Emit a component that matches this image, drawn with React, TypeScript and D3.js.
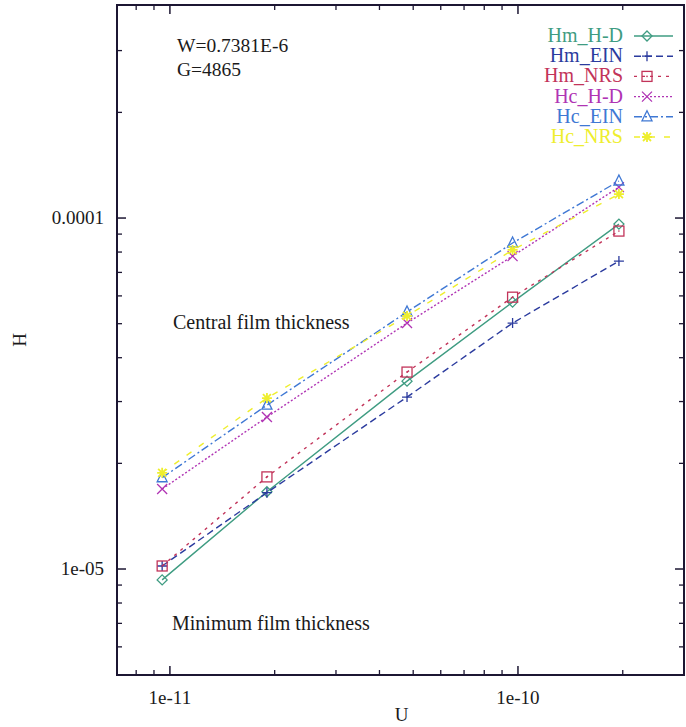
import React from "react";
import * as d3 from "d3";

// values
const uValues = [0.95e-11, 1.9e-11, 4.8e-11, 9.65e-11, 1.95e-10];
const hmHD = [9.31e-6, 1.66e-5, 3.43e-5, 5.76e-5, 9.61e-5];
const hmEIN = [1.02e-5, 1.65e-5, 3.09e-5, 5.02e-5, 7.54e-5];
const hmNRS = [1.02e-5, 1.83e-5, 3.64e-5, 5.95e-5, 9.18e-5];
const hcHD = [1.69e-5, 2.71e-5, 5.02e-5, 7.79e-5, 1.225e-4];
const hcEIN = [1.82e-5, 2.93e-5, 5.4e-5, 8.49e-5, 1.275e-4];
const hcNRS = [1.88e-5, 3.07e-5, 5.26e-5, 8.11e-5, 1.17e-4];

const seriesNames = ["Hm_H-D", "Hm_EIN", "Hm_NRS", "Hc_H-D", "Hc_EIN", "Hc_NRS"];
const xTickLabels = ["1e-11", "1e-10"];
const yTickLabels = ["1e-05", "0.0001"];

const W = 686;
const H = 727;
const frame = { left: 117, top: 5, right: 684, bottom: 675 };
const font = "'Liberation Serif', 'DejaVu Serif', serif";

const x = d3
  .scaleLog()
  .domain([Math.pow(10, -11.152), Math.pow(10, -9.523)])
  .range([frame.left, frame.right]);

const y = d3
  .scaleLog()
  .domain([Math.pow(10, -5.302), Math.pow(10, -3.393)])
  .range([frame.bottom, frame.top]);

const styles = [
  { color: "#3f9c82", dash: "", marker: "diamond" },
  { color: "#2b3b9e", dash: "7,4", marker: "plus" },
  { color: "#c2345a", dash: "3,5", marker: "square" },
  { color: "#b034b4", dash: "2,2", marker: "cross" },
  { color: "#3f78d4", dash: "8,3,2,3", marker: "triangle" },
  { color: "#eeee2e", dash: "6,9", marker: "star" },
];

const series = [hmHD, hmEIN, hmNRS, hcHD, hcEIN, hcNRS];

function Marker({ kind, cx, cy, color }: { kind: string; cx: number; cy: number; color: string }) {
  const s = 5;
  const p = { stroke: color, strokeWidth: 1.3, fill: "none" };
  if (kind === "diamond")
    return <path {...p} d={`M${cx},${cy - s}L${cx + s},${cy}L${cx},${cy + s}L${cx - s},${cy}Z`} />;
  if (kind === "plus")
    return <path {...p} d={`M${cx - s},${cy}H${cx + s}M${cx},${cy - s}V${cy + s}`} />;
  if (kind === "square")
    return (
      <g>
        <rect {...p} x={cx - s} y={cy - s} width={2 * s} height={2 * s} />
        <circle cx={cx} cy={cy} r={0.8} fill={color} />
      </g>
    );
  if (kind === "cross")
    return <path {...p} d={`M${cx - s},${cy - s}L${cx + s},${cy + s}M${cx - s},${cy + s}L${cx + s},${cy - s}`} />;
  if (kind === "triangle")
    return <path {...p} d={`M${cx},${cy - s - 1}L${cx + s},${cy + s - 1}L${cx - s},${cy + s - 1}Z`} />;
  return (
    <path
      {...p}
      strokeWidth={1.8}
      d={`M${cx - s},${cy}H${cx + s}M${cx},${cy - s}V${cy + s}M${cx - 4},${cy - 4}L${cx + 4},${cy + 4}M${cx - 4},${cy + 4}L${cx + 4},${cy - 4}`}
    />
  );
}

export default function App() {
  const line = d3
    .line<number>()
    .x((_, i) => x(uValues[i]))
    .y((d) => y(d));

  // tick positions
  const xMajor = [1e-11, 1e-10];
  const xMinor: number[] = [];
  for (const dec of [1e-12, 1e-11, 1e-10]) {
    for (let k = 2; k <= 9; k++) {
      const v = k * dec;
      if (x(v) > frame.left + 1 && x(v) < frame.right - 1) xMinor.push(v);
    }
  }
  const yMajor = [1e-5, 1e-4];
  const yMinor: number[] = [];
  for (const dec of [1e-6, 1e-5, 1e-4]) {
    for (let k = 2; k <= 9; k++) {
      const v = k * dec;
      if (y(v) < frame.bottom - 2 && y(v) > frame.top + 2) yMinor.push(v);
    }
  }

  const axisColor = "#1c1632";
  const legendY0 = 36;
  const legendStep = 20.2;

  return (
    <svg
      width={W}
      height={H}
      style={{ position: "absolute", left: 0, top: 0, background: "#fff" }}
      fontFamily={font}
    >
      {/* frame */}
      <rect
        x={frame.left}
        y={frame.top}
        width={frame.right - frame.left}
        height={frame.bottom - frame.top}
        fill="none"
        stroke={axisColor}
        strokeWidth={2}
      />

      {/* x ticks */}
      {xMajor.map((v, i) => (
        <g key={"xm" + i}>
          <line x1={x(v)} x2={x(v)} y1={frame.bottom} y2={frame.bottom - 9} stroke={axisColor} strokeWidth={1.5} />
          <line x1={x(v)} x2={x(v)} y1={frame.top} y2={frame.top + 9} stroke={axisColor} strokeWidth={1.5} />
          <text x={x(v)} y={frame.bottom + 29} textAnchor="middle" fontSize={19} fill="#1a1a1a">
            {xTickLabels[i]}
          </text>
        </g>
      ))}
      {xMinor.map((v, i) => (
        <g key={"xn" + i}>
          <line x1={x(v)} x2={x(v)} y1={frame.bottom} y2={frame.bottom - 5} stroke={axisColor} strokeWidth={1.3} />
          <line x1={x(v)} x2={x(v)} y1={frame.top} y2={frame.top + 5} stroke={axisColor} strokeWidth={1.3} />
        </g>
      ))}

      {/* y ticks */}
      {yMajor.map((v, i) => (
        <g key={"ym" + i}>
          <line x1={frame.left} x2={frame.left + 9} y1={y(v)} y2={y(v)} stroke={axisColor} strokeWidth={1.5} />
          <line x1={frame.right} x2={frame.right - 9} y1={y(v)} y2={y(v)} stroke={axisColor} strokeWidth={1.5} />
          <text x={frame.left - 13} y={y(v) + 6} textAnchor="end" fontSize={19} fill="#1a1a1a">
            {yTickLabels[i]}
          </text>
        </g>
      ))}
      {yMinor.map((v, i) => (
        <g key={"yn" + i}>
          <line x1={frame.left} x2={frame.left + 5} y1={y(v)} y2={y(v)} stroke={axisColor} strokeWidth={1.3} />
          <line x1={frame.right} x2={frame.right - 5} y1={y(v)} y2={y(v)} stroke={axisColor} strokeWidth={1.3} />
        </g>
      ))}

      {/* axis titles */}
      <text x={(frame.left + frame.right) / 2 + 1} y={721} textAnchor="middle" fontSize={19} fill="#1a1a1a">
        U
      </text>
      <text
        transform={`translate(26,${(frame.top + frame.bottom) / 2}) rotate(-90)`}
        textAnchor="middle"
        fontSize={19}
        fill="#1a1a1a"
      >
        H
      </text>

      {/* annotations */}
      <text x={177} y={52} fontSize={19.5} fill="#1a1a1a">W=0.7381E-6</text>
      <text x={177} y={76} fontSize={19.5} fill="#1a1a1a">G=4865</text>
      <text x={173} y={329} fontSize={20} fill="#1a1a1a">Central film thickness</text>
      <text x={172} y={630} fontSize={20} fill="#1a1a1a">Minimum film thickness</text>

      {/* series */}
      {series.map((vals, si) => (
        <g key={"s" + si}>
          <path
            d={line(vals) || ""}
            fill="none"
            stroke={styles[si].color}
            strokeWidth={1.4}
            strokeDasharray={styles[si].dash}
          />
          {vals.map((v, i) => (
            <Marker key={i} kind={styles[si].marker} cx={x(uValues[i])} cy={y(v)} color={styles[si].color} />
          ))}
        </g>
      ))}

      {/* legend */}
      {seriesNames.map((name, i) => {
        const ly = legendY0 + i * legendStep;
        return (
          <g key={"l" + i}>
            <text x={623} y={ly + 6} textAnchor="end" fontSize={20} fill={styles[i].color}>
              {name}
            </text>
            <line
              x1={634}
              x2={673}
              y1={ly}
              y2={ly}
              stroke={styles[i].color}
              strokeWidth={1.4}
              strokeDasharray={styles[i].dash}
            />
            <Marker kind={styles[i].marker} cx={647} cy={ly} color={styles[i].color} />
          </g>
        );
      })}
    </svg>
  );
}
